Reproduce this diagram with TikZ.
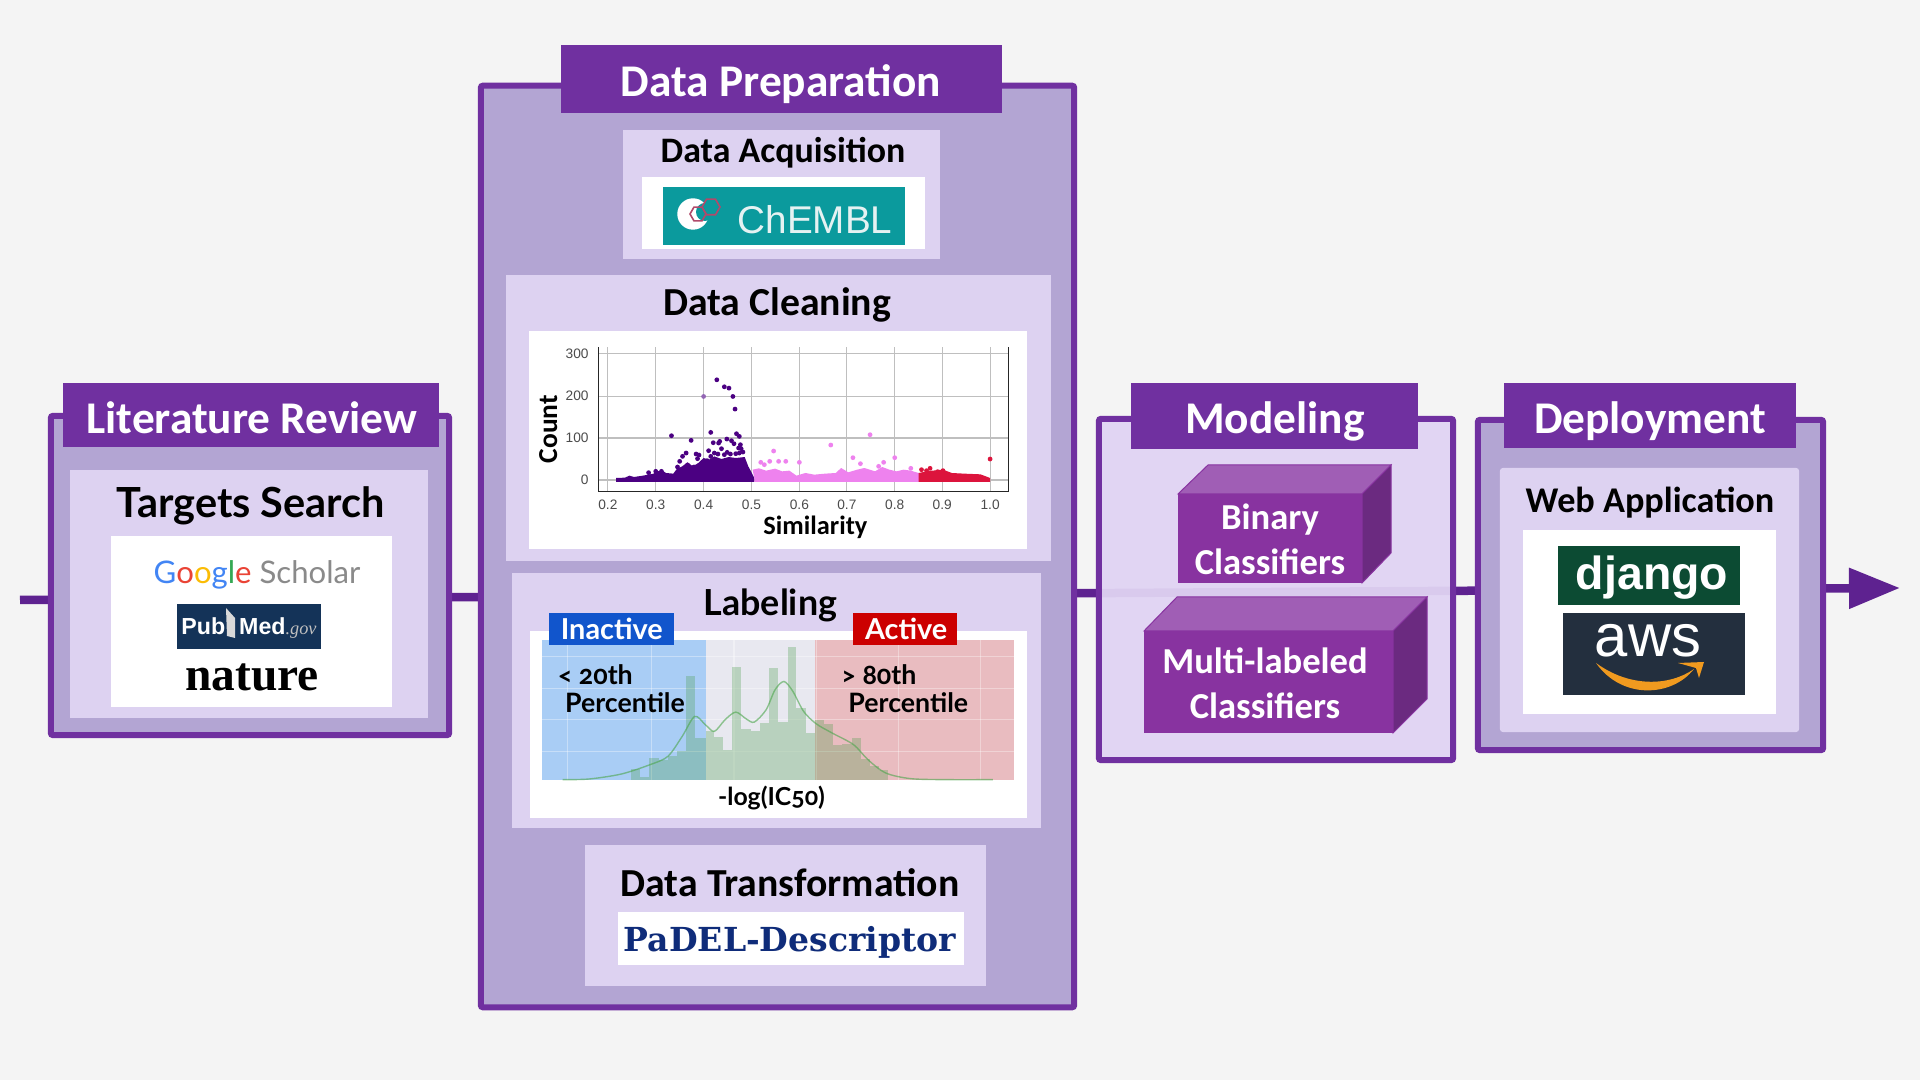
\documentclass[tikz,border=0pt]{standalone}
\usepackage{fontspec}
\setmainfont{Carlito}
\newfontfamily\latofont[Numbers=OldStyle]{Lato}
\newfontfamily\arialfont{Liberation Sans}
\newfontfamily\timesfont{Liberation Serif}
\newfontfamily\slabfont{DejaVu Serif}
\usetikzlibrary{arrows.meta,shapes.geometric}
\newcommand{\fs}[1]{\fontsize{#1}{#1}\selectfont}
\definecolor{pagebg}{HTML}{F4F4F4}
\definecolor{mainpurple}{HTML}{7030A0}
\definecolor{flowpurple}{HTML}{5E2290}
\definecolor{panelfill}{HTML}{B3A5D3}
\definecolor{innerfill}{HTML}{DDD2F1}
\definecolor{lightpanel}{HTML}{E0D4F3}
\definecolor{boxfront}{HTML}{8833A0}
\definecolor{boxtop}{HTML}{A05EB5}
\definecolor{boxside}{HTML}{6B2A80}
\definecolor{simpurple}{HTML}{4B0082}
\definecolor{simpink}{HTML}{EE82EE}
\definecolor{simred}{HTML}{DC143C}
\definecolor{awsorange}{HTML}{F09A1F}
\tikzset{
    panel/.style={draw=mainpurple, fill=panelfill, line width=0.06cm, rounded corners=0.02cm, inner sep=0pt},
    titlebar/.style={fill=mainpurple, inner sep=0pt},
    titletext/.style={text=white, font=\fs{12.9}\bfseries, inner sep=0pt},
    innerbox/.style={fill=innerfill, inner sep=0pt},
    whitebox/.style={fill=white, inner sep=0pt},
    subtitle/.style={text=black, font=\fs{11.3}\bfseries, inner sep=0pt},
    latotext/.style={text=black, font=\latofont\bfseries\fs{7.6}, inner sep=0pt},
    tagbox/.style={text=white, font=\latofont\bfseries\fs{8.2}, inner sep=0pt},
    boxtext/.style={text=white, font=\fs{10.4}\bfseries, inner sep=0pt},
    ticktext/.style={text=black!70, font=\arialfont\fs{3.9}, inner sep=0pt},
    flowline/.style={draw=flowpurple, line width=0.085cm, -{Triangle[length=0.51cm,width=0.39cm]}},
    gridline/.style={draw=black!25, line width=0.012cm},
    barfill/.style={fill=green!45!black!70, fill opacity=0.3}
}
\begin{document}
\begin{tikzpicture}[x=0.01cm,y=-0.01cm]
    \useasboundingbox (0,0) rectangle (1920,1080);
    \fill[pagebg] (0,0) rectangle (1920,1080);

    % 主流程线
    \coordinate (flowstart) at (20,600);
    \coordinate (flowend) at (1900,588);
    \draw[flowline] (flowstart) -- (flowend);

    % 文献综述
    \node[panel, minimum width=3.98cm, minimum height=3.19cm] (litpanel) at (250,575.5) {};
    \node[titlebar, minimum width=3.76cm, minimum height=0.64cm] (littitle) at (251,415) {};
    \node[titletext] (littext) at (252,418) {Literature Review};
    \node[innerbox, minimum width=3.58cm, minimum height=2.48cm] (litinner) at (249,594) {};
    \node[subtitle, font=\latofont\bfseries\fs{11.8}] (targets) at (251,506) {Targets Search};
    \node[whitebox, minimum width=2.81cm, minimum height=1.71cm] (litwhite) at (251.5,621.5) {};
    \node[inner sep=0pt, font=\latofont\fs{8.85}] (scholar) at (257,575) {\textcolor[HTML]{4285F4}{G}\textcolor[HTML]{EA4335}{o}\textcolor[HTML]{FBBC05}{o}\textcolor[HTML]{4285F4}{g}\textcolor[HTML]{34A853}{l}\textcolor[HTML]{EA4335}{e} \textcolor[HTML]{8A8A8A}{Scholar}};
    \node[fill={rgb,255:red,20;green,51;blue,88}, minimum width=1.44cm, minimum height=0.45cm, inner sep=0pt] (pubmedbox) at (249,626.5) {};
    \fill[black!15] (226,608) -- (235,618) -- (235,638) -- (227,636) -- cycle;
    \node[inner sep=0pt, text=white, font=\arialfont\bfseries\fs{6.6}] (pubmed) at (249,628) {Pub\hspace{0.6em}Med{\timesfont\mdseries\itshape\fs{5.2}\textcolor{black!25}{.gov}}};
    \node[inner sep=0pt, text=black, font=\timesfont\bfseries\fs{13.5}] (nature) at (252,677) {nature};

    % 数据准备
    \node[panel, minimum width=5.93cm, minimum height=9.21cm] (preppanel) at (777.5,546.5) {};
    \node[titlebar, minimum width=4.41cm, minimum height=0.68cm] (preptitle) at (781.5,79) {};
    \node[titletext] (preptext) at (781,84) {Data Preparation};

    % 数据获取
    \node[innerbox, minimum width=3.17cm, minimum height=1.29cm] (acqinner) at (781.5,194.5) {};
    \node[subtitle, font=\fs{10.2}\bfseries] (acqtext) at (783,153) {Data Acquisition};
    \node[whitebox, minimum width=2.83cm, minimum height=0.72cm] (acqwhite) at (783.5,213) {};
    \node[fill={rgb,255:red,11;green,154;blue,157}, minimum width=2.42cm, minimum height=0.58cm, inner sep=0pt] (chemblbox) at (784,216) {};
    \fill[white] (693,214) circle[radius=0.157cm];
    \fill[fill={rgb,255:red,11;green,154;blue,157}] (705,212) circle[radius=0.09cm];
    \node[regular polygon, regular polygon sides=6, draw={rgb,255:red,176;green,74;blue,107}, line width=0.016cm, minimum size=0.16cm, inner sep=0pt] (hexa) at (698,214) {};
    \node[regular polygon, regular polygon sides=6, draw={rgb,255:red,176;green,74;blue,107}, line width=0.016cm, minimum size=0.18cm, inner sep=0pt] (hexb) at (711,207) {};
    \node[inner sep=0pt, text=white!90!teal, font=\arialfont\fs{11}] (chembl) at (815,220) {ChEMBL};

    % 数据清洗
    \node[innerbox, minimum width=5.45cm, minimum height=2.86cm] (cleaninner) at (778.5,418) {};
    \node[subtitle] (cleantext) at (777,305) {Data Cleaning};
    \node[whitebox, minimum width=4.98cm, minimum height=2.18cm] (cleanwhite) at (778,440) {};
    \begin{scope}[shift={(500,270)},x=0.003571cm,y=-0.003333cm]
        \foreach \gx in {302,436,570,704,838,971,1105,1238,1372}
            \draw[gridline] (\gx,232) -- (\gx,665);
        \foreach \gy in {252,379,505,631}
            \draw[gridline] (275,\gy) -- (1423,\gy);
        % 散点主体
        \fill[simpurple] (325,625) -- (350,624) -- (362,618) -- (375,622) -- (400,618) -- (430,612) -- (440,605) -- (455,603) -- (465,610) -- (485,612) -- (495,598) -- (510,590) -- (525,578) -- (540,590) -- (555,580) -- (570,565) -- (585,570) -- (600,560) -- (620,568) -- (640,562) -- (660,565) -- (685,562) -- (695,590) -- (705,610) -- (712,625) -- (712,637) -- (325,637) -- cycle;
        \fill[simpink] (707,600) -- (725,596) -- (745,603) -- (770,597) -- (790,605) -- (810,603) -- (830,618) -- (855,610) -- (880,615) -- (910,612) -- (940,610) -- (955,595) -- (975,608) -- (1000,600) -- (1020,595) -- (1050,605) -- (1070,592) -- (1090,600) -- (1110,605) -- (1130,600) -- (1150,603) -- (1178,612) -- (1178,637) -- (712,637) -- (712,625) -- cycle;
        \fill[simred] (1172,610) -- (1200,604) -- (1240,600) -- (1265,610) -- (1300,612) -- (1345,614) -- (1372,625) -- (1372,637) -- (1172,637) -- cycle;
        \foreach \px/\py in {607/330,628/351,641/355,652/380,658/418,480/498,535/512,590/488,662/492,670/500,597/519,615/515,635/508,648/513,655/522,673/525,675/537,668/535,612/520,620/537,584/543,521/550,511/560,503/575,549/553,557/556,553/567,600/550,610/553,628/555,636/548,645/553,660/552,680/547,670/550,590/560,580/573,525/586,497/592,543/592,436/605,416/609,452/605}
            \fill[simpurple] (\px,\py) circle[radius=0.024cm];
        \fill[simpurple!60] (570,380) circle[radius=0.024cm];
        \foreach \px/\py in {766/544,926/526,1036/495,988/564,1009/582,1074/578,1105/564,838/578,800/575,780/575,755/575,730/578,740/585,1150/596,1060/590}
            \fill[simpink] (\px,\py) circle[radius=0.024cm];
        \foreach \px/\py in {1372/568,1180/600,1204/596,1194/603,1240/603,1225/606}
            \fill[simred] (\px,\py) circle[radius=0.024cm];
        % 坐标轴
        \draw[black!85, line width=0.012cm] (275,232) -- (275,665) -- (1423,665) -- (1423,232);
        \foreach \gx/\glabel in {302/0.2,436/0.3,570/0.4,704/0.5,838/0.6,971/0.7,1105/0.8,1238/0.9,1372/1.0}
            \node[ticktext] (xtick\gx) at (\gx,705) {\glabel};
        \foreach \gy/\glabel in {252/300,379/200,505/100,631/0}
            \node[ticktext, anchor=east] (ytick\gy) at (250,\gy) {\glabel};
        \node[inner sep=0pt, text=black, font=\fs{7.8}\bfseries, rotate=90] (counttext) at (135,478) {Count};
        \node[inner sep=0pt, text=black, font=\fs{7.5}\bfseries] (simtext) at (883,772) {Similarity};
    \end{scope}

    % 标注
    \node[innerbox, minimum width=5.285cm, minimum height=2.55cm] (labelinner) at (776.5,700.5) {};
    \node[whitebox, minimum width=4.97cm, minimum height=1.87cm] (labelwhite) at (778.5,724.5) {};
    \begin{scope}[shift={(500,570)},x=0.003571cm,y=-0.003333cm]
        \node[latotext, font=\latofont\bfseries\fs{10.2}] (labeltext) at (757,106) {Labeling};
        \fill[fill={rgb,255:red,169;green,205;blue,245}] (118,210) rectangle (577,630);
        \fill[fill={rgb,255:red,232;green,232;blue,240}] (577,210) rectangle (883,630);
        \fill[fill={rgb,255:red,233;green,188;blue,192}] (883,210) rectangle (1440,630);
        \foreach \gx in {190,425,655,885,1115,1345}
            \draw[white, opacity=0.35, line width=0.012cm] (\gx,210) -- (\gx,630);
        \foreach \gy in {260,355,450,545}
            \draw[white, opacity=0.35, line width=0.012cm] (118,\gy) -- (1440,\gy);
        % 直方图
        \foreach \ba/\bb/\bt in {368/392/597,392/418/622,418/445/565,445/470/572,470/496/560,496/522/545,522/547/318,547/577/505,577/598/485,598/623/502,623/650/540,650/675/293,675/702/478,702/727/483,727/753/460,753/778/296,778/805/458,805/830/230,830/856/415,856/882/490,882/907/450,907/933/462,933/958/527,958/984/522,984/1010/505,1010/1035/568,1035/1060/590,1060/1086/602}
            \fill[barfill] (\ba,\bt) rectangle (\bb,630);
        \draw[green!50!black!70, opacity=0.6, line width=0.014cm] plot[smooth] coordinates {(175,630) (250,628) (340,613) (420,585) (470,560) (510,500) (545,440) (575,465) (600,485) (630,450) (660,427) (690,448) (712,457) (745,420) (770,360) (795,335) (820,365) (850,425) (885,462) (930,490) (990,525) (1030,570) (1080,610) (1150,627) (1250,630) (1380,630)};
        \node[fill={rgb,255:red,17;green,85;blue,204}, minimum width=1.25cm, minimum height=0.32cm, inner sep=0pt] (inactivebox) at (311,177) {};
        \node[tagbox] (inactivetext) at (313,178) {Inactive};
        \node[fill={rgb,255:red,204;green,0;blue,0}, minimum width=1.035cm, minimum height=0.32cm, inner sep=0pt] (activebox) at (1134,177) {};
        \node[tagbox] (activetext) at (1137,178) {Active};
        \node[latotext] (lowtext) at (267,315) {<\ 20th};
        \node[latotext] (lowsub) at (350,398) {Percentile};
        \node[latotext] (hightext) at (1061,315) {>\ 80th};
        \node[latotext] (highsub) at (1143,398) {Percentile};
        \node[latotext, font=\latofont\bfseries\fs{7.05}] (icfifty) at (760,686) {-log(IC50)};
    \end{scope}

    % 数据转换
    \node[innerbox, minimum width=4.01cm, minimum height=1.41cm] (transinner) at (785.5,915.5) {};
    \node[subtitle] (transtext) at (790,883) {Data Transformation};
    \node[whitebox, minimum width=3.46cm, minimum height=0.53cm] (transwhite) at (791,938.5) {};
    \node[inner sep=0pt, text={rgb,255:red,15;green,44;blue,122}, font=\slabfont\bfseries\fs{9.4}] (padel) at (790,942) {PaDEL-Descriptor};

    % 建模
    \node[panel, fill=lightpanel, fill opacity=0.95, text opacity=1, minimum width=3.54cm, minimum height=3.41cm] (modelpanel) at (1276,589.5) {};
    \node[titlebar, minimum width=2.87cm, minimum height=0.66cm] (modeltitle) at (1274.5,416) {};
    \node[titletext] (modeltext) at (1275,421) {Modeling};
    % 立方体
    \filldraw[fill=boxtop, draw=boxfront, line width=0.01cm] (1178,494) -- (1208,465) -- (1391,465) -- (1362,494) -- cycle;
    \filldraw[fill=boxside, draw=boxfront, line width=0.01cm] (1362,494) -- (1391,465) -- (1391,553) -- (1362,583) -- cycle;
    \fill[boxfront] (1178,494) rectangle (1362,583);
    \filldraw[fill=boxtop, draw=boxfront, line width=0.01cm] (1144,631) -- (1177,597) -- (1427,597) -- (1393,631) -- cycle;
    \filldraw[fill=boxside, draw=boxfront, line width=0.01cm] (1393,631) -- (1427,597) -- (1427,699) -- (1393,733) -- cycle;
    \fill[boxfront] (1144,631) rectangle (1393,733);
    \node[boxtext] (binarytext) at (1270,520) {Binary};
    \node[boxtext] (binaryclass) at (1270,562) {Classifiers};
    \node[boxtext] (multitext) at (1265,661) {Multi-labeled};
    \node[boxtext] (multiclass) at (1265,706) {Classifiers};

    % 部署
    \node[panel, minimum width=3.45cm, minimum height=3.30cm] (deploypanel) at (1650.5,585) {};
    \node[titlebar, minimum width=2.92cm, minimum height=0.65cm] (deploytitle) at (1650,415.5) {};
    \node[titletext] (deploytext) at (1650,421) {Deployment};
    \node[innerbox, rounded corners=0.03cm, minimum width=2.99cm, minimum height=2.64cm] (deployinner) at (1649.5,600) {};
    \node[subtitle, font=\fs{10.3}\bfseries] (webtext) at (1650,503) {Web Application};
    \node[whitebox, minimum width=2.53cm, minimum height=1.84cm] (deploywhite) at (1649.5,622) {};
    \node[fill={rgb,255:red,12;green,75;blue,51}, minimum width=1.82cm, minimum height=0.59cm, inner sep=0pt] (djangobox) at (1649,575.5) {};
    \node[inner sep=0pt, text=white, font=\arialfont\bfseries\fs{13.2}] (djangotext) at (1652,578) {django};
    \node[fill={rgb,255:red,35;green,47;blue,62}, minimum width=1.82cm, minimum height=0.82cm, inner sep=0pt] (awsbox) at (1654,654) {};
    \node[inner sep=0pt, text=white, font=\arialfont\fs{17}] (awstext) at (1648,641) {aws};
    \fill[awsorange] (1596,663) .. controls (1630,688) and (1670,686) .. (1694,669) .. controls (1672,697) and (1622,700) .. (1596,663) -- cycle;
    \fill[awsorange] (1678,663) -- (1704,662) -- (1699,678) -- (1696,668) -- cycle;
\end{tikzpicture}
\end{document}
